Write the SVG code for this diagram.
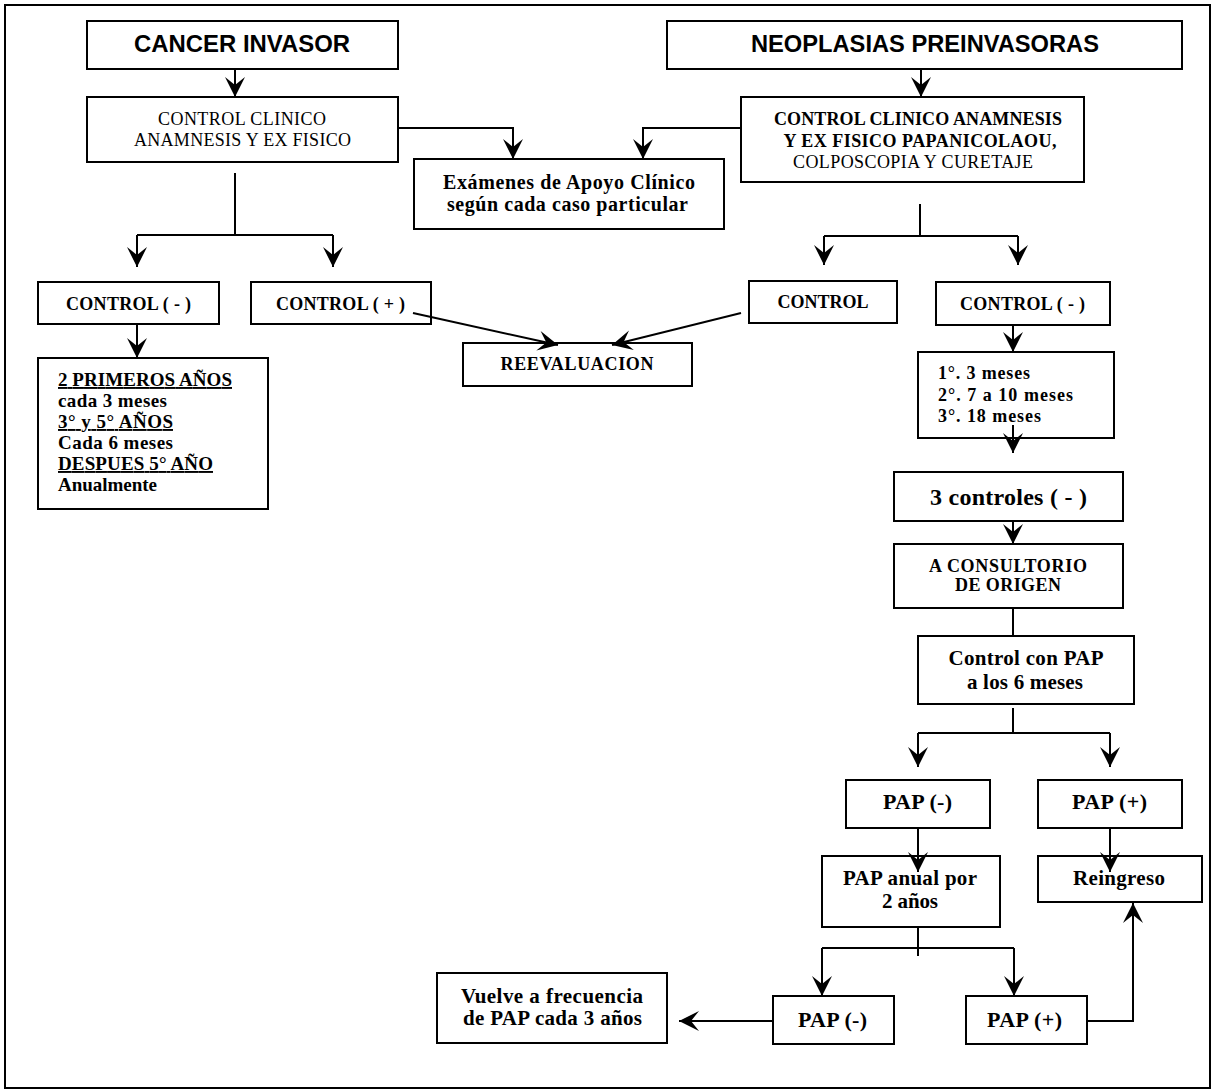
<svg xmlns="http://www.w3.org/2000/svg" width="1214" height="1091" viewBox="0 0 1214 1091">
<defs>
<style>
.bx{fill:#fff;stroke:#000;stroke-width:2}
.hd{font-family:"Liberation Sans",Arial,sans-serif;font-weight:bold;font-size:23px;text-anchor:middle;fill:#000}
.tr{font-family:"Liberation Serif","Times New Roman",serif;font-size:18px;text-anchor:middle;fill:#000}
.tb{font-family:"Liberation Serif","Times New Roman",serif;font-weight:bold;font-size:18px;text-anchor:middle;fill:#000}
.tl{font-family:"Liberation Serif","Times New Roman",serif;font-weight:bold;font-size:19px;fill:#000}
.ul{text-decoration:underline}
.ln{fill:none;stroke:#000;stroke-width:2}
.ar{fill:none;stroke:#000;stroke-width:2;marker-end:url(#ah)}
</style>
<marker id="ah" viewBox="-21 -11 22 22" refX="0" refY="0" markerWidth="22" markerHeight="22" markerUnits="userSpaceOnUse" orient="auto">
<path d="M0,0 L-20,-10 L-12,0 L-20,10 Z" fill="#000"/>
</marker>
</defs>
<rect x="0" y="0" width="1214" height="1091" fill="#fff"/>
<rect x="5" y="5" width="1205" height="1083" fill="none" stroke="#000" stroke-width="2"/>

<g id="n-cancer">
<rect class="bx" x="87" y="21" width="311" height="48"/>
<text class="hd" x="242" y="52" textLength="216" lengthAdjust="spacingAndGlyphs">CANCER INVASOR</text>
</g>
<g id="n-neoplasias">
<rect class="bx" x="667" y="21" width="515" height="48"/>
<text class="hd" x="925" y="52" textLength="348" lengthAdjust="spacingAndGlyphs">NEOPLASIAS PREINVASORAS</text>
</g>
<g id="n-control-clinico-1">
<rect class="bx" x="87" y="97" width="311" height="65"/>
<text class="tr" x="242" y="125" textLength="168">CONTROL CLINICO</text>
<text class="tr" x="242.5" y="146" textLength="217">ANAMNESIS Y EX FISICO</text>
</g>
<g id="n-control-clinico-2">
<rect class="bx" x="741" y="97" width="343" height="85"/>
<text class="tb" x="918" y="125" textLength="288">CONTROL CLINICO ANAMNESIS</text>
<text class="tb" x="920" y="147" textLength="273">Y EX FISICO PAPANICOLAOU,</text>
<text class="tr" x="913" y="168" textLength="240">COLPOSCOPIA Y CURETAJE</text>
</g>
<g id="n-examenes">
<rect class="bx" x="414" y="159" width="310" height="70"/>
<text class="tb" style="font-size:20px" x="569" y="189" textLength="252">Exámenes de Apoyo Clínico</text>
<text class="tb" style="font-size:20px" x="567.5" y="211" textLength="241">según cada caso particular</text>
</g>
<g id="n-control-neg-1">
<rect class="bx" x="38" y="282" width="181" height="42"/>
<text class="tb" x="128.5" y="310" textLength="125">CONTROL ( - )</text>
</g>
<g id="n-control-pos">
<rect class="bx" x="251" y="282" width="180" height="42"/>
<text class="tb" x="340.5" y="310" textLength="129">CONTROL ( + )</text>
</g>
<g id="n-reevaluacion">
<rect class="bx" x="463" y="343" width="229" height="43"/>
<text class="tb" x="577" y="370" textLength="153">REEVALUACION</text>
</g>
<g id="n-control">
<rect class="bx" x="749" y="281" width="148" height="42"/>
<text class="tb" x="823" y="308" textLength="91">CONTROL</text>
</g>
<g id="n-control-neg-2">
<rect class="bx" x="936" y="282" width="174" height="43"/>
<text class="tb" x="1022.5" y="310" textLength="125">CONTROL ( - )</text>
</g>
<g id="n-frecuencia-1">
<rect class="bx" x="38" y="358" width="230" height="151"/>
<text class="tl ul" x="58" y="386" textLength="174">2 PRIMEROS AÑOS</text>
<text class="tl" x="58" y="407" textLength="109">cada 3 meses</text>
<text class="tl ul" x="58" y="428" textLength="115">3° y 5° AÑOS</text>
<text class="tl" x="58" y="449" textLength="115">Cada 6 meses</text>
<text class="tl ul" x="58" y="470" textLength="155">DESPUES 5° AÑO</text>
<text class="tl" x="58" y="491" textLength="99">Anualmente</text>
</g>
<g id="n-frecuencia-2">
<rect class="bx" x="918" y="352" width="196" height="86"/>
<text class="tl" style="font-size:18px" x="938" y="379" textLength="92">1°. 3 meses</text>
<text class="tl" style="font-size:18px" x="938" y="401" textLength="135">2°. 7 a 10 meses</text>
<text class="tl" style="font-size:18px" x="938" y="422" textLength="103">3°. 18 meses</text>
</g>
<g id="n-3-controles">
<rect class="bx" x="894" y="472" width="229" height="49"/>
<text class="tb" style="font-size:24px" x="1008.5" y="505" textLength="157">3 controles ( - )</text>
</g>
<g id="n-consultorio">
<rect class="bx" x="894" y="544" width="229" height="64"/>
<text class="tb" x="1008" y="572" textLength="158">A CONSULTORIO</text>
<text class="tb" x="1008" y="591" textLength="106">DE ORIGEN</text>
</g>
<g id="n-control-pap">
<rect class="bx" x="918" y="636" width="216" height="68"/>
<text class="tb" style="font-size:21px" x="1026" y="665" textLength="155">Control con PAP</text>
<text class="tb" style="font-size:21px" x="1025" y="689" textLength="116">a los 6 meses</text>
</g>
<g id="n-pap-neg-1">
<rect class="bx" x="846" y="780" width="144" height="48"/>
<text class="tb" style="font-size:22px" x="917.5" y="809" textLength="69">PAP (-)</text>
</g>
<g id="n-pap-pos-1">
<rect class="bx" x="1038" y="780" width="144" height="48"/>
<text class="tb" style="font-size:22px" x="1109.5" y="809" textLength="75">PAP (+)</text>
</g>
<g id="n-pap-anual">
<rect class="bx" x="822" y="856" width="178" height="71"/>
<text class="tb" style="font-size:21px" x="910" y="885" textLength="134">PAP anual por</text>
<text class="tb" style="font-size:21px" x="910" y="908" textLength="56">2 años</text>
</g>
<g id="n-reingreso">
<rect class="bx" x="1038" y="856" width="164" height="46"/>
<text class="tb" style="font-size:21px" x="1119" y="885" textLength="92">Reingreso</text>
</g>
<g id="n-vuelve">
<rect class="bx" x="437" y="973" width="230" height="70"/>
<text class="tb" style="font-size:21px" x="552" y="1003" textLength="182">Vuelve a frecuencia</text>
<text class="tb" style="font-size:21px" x="552.5" y="1025" textLength="179">de PAP cada 3 años</text>
</g>
<g id="n-pap-neg-2">
<rect class="bx" x="773" y="996" width="121" height="48"/>
<text class="tb" style="font-size:22px" x="832.5" y="1027" textLength="69">PAP (-)</text>
</g>
<g id="n-pap-pos-2">
<rect class="bx" x="966" y="996" width="121" height="48"/>
<text class="tb" style="font-size:22px" x="1024.5" y="1027" textLength="75">PAP (+)</text>
</g>

<g id="connectors">
<path class="ar" d="M235,69 V97"/>
<path class="ar" d="M921,69 V97"/>
<path class="ar" d="M398,128 H513 V159"/>
<path class="ar" d="M741,128 H643 V159"/>
<path class="ln" d="M235,173 V235 M137,235 H333"/>
<path class="ar" d="M137,235 V267"/>
<path class="ar" d="M333,235 V267"/>
<path class="ln" d="M920,204 V236 M824,236 H1018"/>
<path class="ar" d="M824,236 V265"/>
<path class="ar" d="M1018,236 V265"/>
<path class="ar" d="M137,324 V358"/>
<path class="ar" d="M413,313 L558,345"/>
<path class="ar" d="M741,313 L612,345"/>
<path class="ar" d="M1013,325 V352"/>
<path class="ar" d="M1013,425 V453"/>
<path class="ar" d="M1013,521 V544"/>
<path class="ln" d="M1013,608 V636"/>
<path class="ln" d="M1013,708 V733 M918,733 H1110"/>
<path class="ar" d="M918,733 V767"/>
<path class="ar" d="M1110,733 V767"/>
<path class="ar" d="M918,828 V872"/>
<path class="ar" d="M1110,828 V872"/>
<path class="ln" d="M918,927 V956 M822,948 H1014"/>
<path class="ar" d="M822,948 V996"/>
<path class="ar" d="M1014,948 V996"/>
<path class="ar" d="M1087,1021 H1133 V903"/>
<path class="ar" d="M773,1021 H679"/>
</g>
</svg>
